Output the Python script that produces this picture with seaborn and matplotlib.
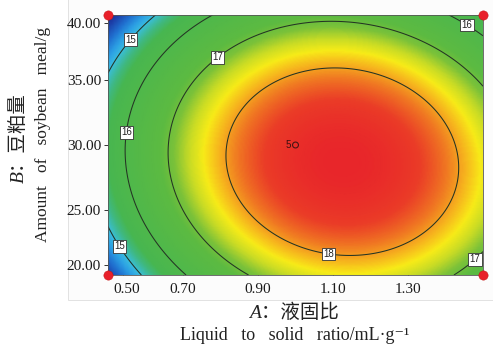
import numpy as np
import matplotlib
matplotlib.use('Agg')
import matplotlib.pyplot as plt
import seaborn as sns
import pandas as pd
from matplotlib.colors import LinearSegmentedColormap
from matplotlib.patches import Rectangle
import matplotlib.transforms as mtransforms

# ---- data ----
# quadratic response-surface coefficients (coded units: x1=(A-1.0)/0.5, x2=(B-30)/10)
coef_names = ['b0', 'bA', 'bB', 'bAB', 'bAA', 'bBB']
coef_vals = [18.656, 1.019, -0.342, -0.229, -2.099, -1.554]
contour_levels = [15, 16, 17, 18]
label_pos = [(0.556, 38.2), (0.54, 22.4), (1.463, 39.5), (0.545, 31.0),
             (0.788, 36.9), (1.473, 21.4), (1.089, 21.8)]
design_A = [0.5, 0.5, 1.5, 1.5]
design_B = [20.0, 40.0, 20.0, 40.0]
center_A = [1.0]
center_B = [30.0]
center_reps = '5'
x_ticks = [0.5, 0.7, 0.9, 1.1, 1.3, 1.5]
x_ticklabels = ['0.50', '0.70', '0.90', '1.10', '1.30', '']
y_ticks = [20, 25, 30, 35, 40]
y_ticklabels = ['20.00', '25.00', '30.00', '35.00', '40.00']

sns.set_style('white')
plt.rcParams['font.family'] = ['Liberation Serif', 'DejaVu Serif']

fig = plt.figure(figsize=(4.93, 3.46), dpi=100)
fig.patches.append(Rectangle((68/493, 1-300/346), 1, 1, transform=fig.transFigure,
                             facecolor='#fcfcfc', edgecolor='#e2e2e2', lw=0.7, zorder=-5))
ax = fig.add_axes([108/493, 1-275/346, 375/493, 260/346])

A = np.linspace(0.5, 1.5, 300)
B = np.linspace(20, 40, 300)
AA, BB = np.meshgrid(A, B)
X1 = (AA - 1.0) / 0.5
X2 = (BB - 30.0) / 10.0
c = dict(zip(coef_names, coef_vals))
Z = (c['b0'] + c['bA']*X1 + c['bB']*X2 + c['bAB']*X1*X2
     + c['bAA']*X1**2 + c['bBB']*X2**2)

cmap = LinearSegmentedColormap.from_list('de', [
    (0.0, '#1a2a88'), (0.05, '#1c3ea8'), (0.12, '#2070d0'), (0.18, '#2ca0e4'),
    (0.225, '#3abce0'), (0.25, '#3cbcb8'), (0.29, '#40b880'), (0.34, '#48b650'),
    (0.60, '#5cba42'), (0.66, '#7cc23a'), (0.72, '#cadc26'), (0.77, '#f8ec18'),
    (0.82, '#f6b41e'), (0.87, '#f07a22'), (0.93, '#ea3c27'), (1.0, '#e8262a')])
ax.pcolormesh(AA, BB, Z, cmap=cmap, shading='gouraud', rasterized=True)
cs = ax.contour(AA, BB, Z, levels=contour_levels, colors='#243424', linewidths=0.75)
labels = ax.clabel(cs, fmt='%d', fontsize=7, manual=label_pos, inline=False)
for t in labels:
    t.set_rotation(0)
    t.set_fontfamily(['Liberation Sans', 'DejaVu Sans'])
    t.set_color('#222222')
    t.set_bbox(dict(facecolor='white', edgecolor='#333333', pad=1.0, lw=0.6))

df_design = pd.DataFrame({'A': design_A, 'B': design_B})
sns.scatterplot(data=df_design, x='A', y='B', ax=ax, s=45, color='#e8202a',
                edgecolor='#c01010', linewidth=0.3, clip_on=False, zorder=10, legend=False)
df_center = pd.DataFrame({'A': center_A, 'B': center_B})
sns.scatterplot(data=df_center, x='A', y='B', ax=ax, s=18, facecolor='none',
                edgecolor='#4a1515', linewidth=0.8, marker='o', zorder=10, legend=False)
ax.text(center_A[0] - 0.013, center_B[0], center_reps, fontsize=7, color='#3a1010',
        ha='right', va='center', family=['Liberation Sans', 'DejaVu Sans'])

ax.set_xlim(0.5, 1.5)
ax.set_ylim(20, 40)
ax.set_xticks(x_ticks)
ax.set_xticklabels(x_ticklabels)
ax.set_yticks(y_ticks)
ax.set_yticklabels(y_ticklabels)
ax.set_xlabel('')
ax.set_ylabel('')
ax.tick_params(axis='x', direction='in', length=3, width=0.7, color='#333333',
               labelsize=11, pad=6, labelcolor='#1a1a1a')
ax.tick_params(axis='y', direction='out', length=3, width=0.7, color='#333333',
               labelsize=11, pad=2, labelcolor='#1a1a1a')
ax.tick_params(left=True, bottom=True)
for s in ax.spines.values():
    s.set_color('#555555')
    s.set_linewidth(0.6)

def shift(artist, dx, dy):
    artist.set_transform(artist.get_transform() +
                         mtransforms.ScaledTranslation(dx/100, dy/100, fig.dpi_scale_trans))

xt = ax.xaxis.get_major_ticks()
shift(xt[0].label1, 19, 0)
shift(xt[0].tick1line, 15, 0)
shift(xt[-1].tick1line, -3, 0)
yt = ax.yaxis.get_major_ticks()
shift(yt[0].label1, 0, 10)
shift(yt[0].tick1line, 0, 10)
shift(yt[-1].label1, 0, -8)
shift(yt[-1].tick1line, 0, -8)

# axis titles
fig.text(294/493, 1-313/346, 'A：液固比', ha='center', va='center', fontsize=14,
         style='italic', family=['Liberation Serif', 'Noto Sans CJK SC'], color='#222222')
fig.text(295/493, 1-336/346, 'Liquid   to   solid   ratio/mL·g⁻¹', ha='center', va='center',
         fontsize=13, family=['Liberation Serif', 'DejaVu Serif'], color='#222222')
fig.text(19/493, 1-138/346, 'B：豆粕量', ha='center', va='center', fontsize=14,
         rotation=90, style='italic', family=['Liberation Serif', 'Noto Sans CJK SC'],
         color='#222222')
fig.text(43/493, 1-134/346, 'Amount   of   soybean   meal/g', ha='center', va='center',
         fontsize=12.5, rotation=90, family=['Liberation Serif', 'DejaVu Serif'],
         color='#222222')

fig.savefig('out.png', dpi=100)
